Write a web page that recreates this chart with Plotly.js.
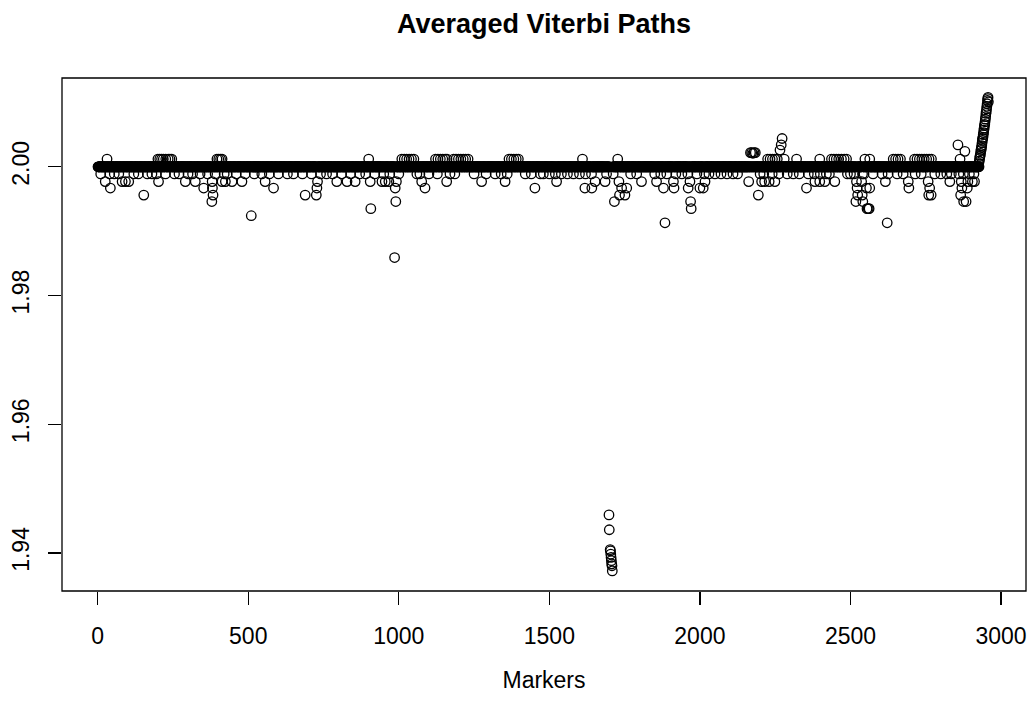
<!DOCTYPE html>
<html><head><meta charset="utf-8">
<script src="https://cdn.plot.ly/plotly-3.0.1.min.js"></script>
<style>html,body{margin:0;padding:0;background:#fff}</style>
</head><body><div id="chart" style="width:1034px;height:708px"></div>
<script>
// ---- data ----
const nMarkers = 2958;
const baseValue = 2.000;

// rows of markers that sit one or more small steps away from 2.000
const rowValues = [2.0012, 1.9989, 1.9977, 1.9967, 1.9956, 1.9946, 1.9935];
const rowUp1 = [31,200,206,212,218,226,234,240,246,396,402,408,413,900,1010,1018,1026,1034,1042,1050,1122,1130,1138,1146,1154,1160,1182,1190,1198,1206,1214,1222,1230,1366,1374,1382,1390,1397,1610,1727,2225,2233,2241,2249,2257,2280,2321,2398,2437,2445,2453,2461,2470,2479,2487,2548,2564,2642,2650,2658,2666,2713,2721,2729,2737,2745,2753,2761,2769,2864];
const rowDown1 = [10,40,55,70,120,135,165,180,195,225,255,270,300,315,340,365,390,420,430,460,490,520,545,570,600,630,650,680,710,740,760,780,810,840,870,890,920,950,970,1000,1060,1070,1100,1128,1170,1186,1250,1290,1320,1340,1360,1420,1440,1470,1480,1500,1520,1540,1560,1580,1600,1620,1640,1690,1712,1770,1790,1850,1870,1890,1920,1940,1960,1990,2015,2030,2050,2070,2090,2110,2125,2200,2212,2240,2262,2290,2310,2330,2360,2380,2400,2420,2430,2490,2500,2512,2540,2545,2575,2605,2625,2655,2675,2715,2735,2780,2800,2820,2835,2860,2875,2895,2910];
const rowDown2 = [25,81,92,103,202,291,324,380,413,424,446,479,556,730,794,828,855,905,944,955,967,992,1076,1159,1275,1353,1524,1652,1685,1731,1806,1856,1912,1967,2017,2162,2205,2215,2230,2249,2382,2398,2415,2448,2520,2537,2616,2692,2758,2830,2868,2890,2905,2912];
const rowDown3 = [42,352,381,584,728,988,1087,1452,1618,1641,1740,1757,1879,1914,1961,2000,2011,2354,2522,2553,2564,2694,2763,2870,2888];
const rowDown4 = [153,383,689,726,1733,1751,2194,2524,2539,2760,2768,2866];
const rowDown5 = [379,990,1716,1969,2518,2541,2876,2884];
const rowDown6 = [907,1971,2555,2559,2562];

// individual points
const otherMarkers = [510,986,1884,2622, 2168,2172,2176,2180,2184, 2266,2270,2273,2857,2880,
  1698,1699,1702,1703,1704,1705,1706,1707,1708,1709];
const otherValues  = [1.9924,1.9859,1.9913,1.9913, 2.0022,2.0022,2.0021,2.0022,2.0022, 2.0026,2.0034,2.0044,2.0034,2.0024,
  1.9459,1.9436,1.9405,1.9403,1.9398,1.9393,1.9388,1.9383,1.9380,1.9372];

// rising tail at the end
const tailMarkers = [2926,2928,2929,2930,2931,2932,2933,2934,2935,2936,2937,2938,2939,2940,2941,2942,2943,2944,2945,2946,2947,2948,2949,2950,2951,2952,2953,2954,2955,2956,2957,2958];
const tailValues  = [2.0005,2.0009,2.0013,2.0016,2.0018,2.0021,2.0025,2.0027,2.0030,2.0033,2.0037,2.0041,2.0044,2.0046,2.0050,2.0053,2.0057,2.0060,2.0064,2.0066,2.0070,2.0074,2.0078,2.0083,2.0086,2.0090,2.0094,2.0098,2.0103,2.0106,2.0108,2.0101];

const xTickVals = [0,500,1000,1500,2000,2500,3000];
const xTickText = ["0","500","1000","1500","2000","2500","3000"];
const yTickVals = [1.94,1.96,1.98,2.00];
const yTickText = ["1.94","1.96","1.98","2.00"];

// ---- assemble points ----
const rows = [rowUp1,rowDown1,rowDown2,rowDown3,rowDown4,rowDown5,rowDown6];
const devX = [], devY = [];
rows.forEach((r,i)=>r.forEach(m=>{devX.push(m);devY.push(rowValues[i]);}));
otherMarkers.forEach((m,i)=>{devX.push(m);devY.push(otherValues[i]);});
tailMarkers.forEach((m,i)=>{devX.push(m);devY.push(tailValues[i]);});
const devSet = new Set(devX);
const xs = [], ys = [];
for (let m=1; m<=nMarkers; m++){ if(!devSet.has(m)){xs.push(m);ys.push(baseValue);} }
for (let i=0;i<devX.length;i++){xs.push(devX[i]);ys.push(devY[i]);}

const font = 'Liberation Sans, Arial, Helvetica, sans-serif';
const trace = {
  x: xs, y: ys, type: 'scatter', mode: 'markers',
  marker: {symbol:'circle-open', size: 9.5, color:'#000', line:{color:'#000', width:1.3}},
  hoverinfo:'skip'
};
const layout = {
  width:1034, height:708,
  margin:{l:62, r:8, t:78, b:117},
  paper_bgcolor:'#fff', plot_bgcolor:'#fff',
  showlegend:false,
  title:{text:'Averaged Viterbi Paths', font:{family:font, size:27, color:'#000', weight:'bold'},
    x:0.5, xref:'paper', y:1-24/708, yref:'container', yanchor:'middle'},
  xaxis:{range:[-118.6,3083], tickmode:'array', tickvals:xTickVals, ticktext:xTickText,
    ticks:'outside', ticklen:13, tickwidth:1.2, tickcolor:'#000', ticklabelstandoff:11,
    showgrid:false, zeroline:false, showline:false,
    tickfont:{family:font, size:23, color:'#000'},
    title:{text:'Markers', font:{family:font, size:23, color:'#000'}, standoff:24}},
  yaxis:{range:[1.93408,2.0138], tickmode:'array', tickvals:yTickVals, ticktext:yTickText,
    ticks:'outside', ticklen:13, tickwidth:1.2, tickcolor:'#000', tickangle:-90, ticklabelstandoff:10,
    showgrid:false, zeroline:false, showline:false,
    tickfont:{family:font, size:23, color:'#000'}},
  shapes:[{type:'rect', xref:'paper', yref:'paper', x0:0, x1:1, y0:0, y1:1, line:{color:'#000', width:1.3}}]
};
Plotly.newPlot('chart',[trace],layout,{displayModeBar:false, staticPlot:true});
</script>
</body></html>
